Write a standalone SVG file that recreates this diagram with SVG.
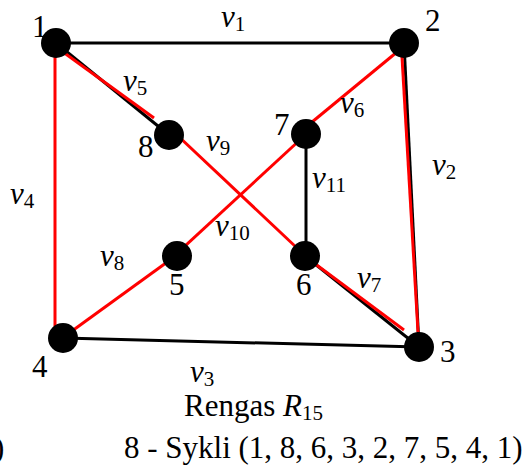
<svg xmlns="http://www.w3.org/2000/svg" width="529" height="470" viewBox="0 0 529 470">
<style>
.blk{stroke:#000;stroke-width:3;fill:none}
.red{stroke:#ff0000;stroke-width:3;fill:none}
.node{fill:#000}
text{font-family:"Liberation Serif","DejaVu Serif",serif;font-size:31px;fill:#000}
.it{font-style:italic}
.sub{font-size:21px}
</style>
<rect width="529" height="470" fill="#fff"/>
<g id="connectors">
<line class="blk" x1="56" y1="43" x2="404" y2="43"/>
<line class="blk" x1="63" y1="338" x2="419" y2="347"/>
<line class="blk" x1="306" y1="134" x2="306" y2="256"/>
<line class="blk" x1="56" y1="43" x2="169" y2="135"/>
<line class="blk" x1="404" y1="43" x2="419" y2="347"/>
<line class="blk" x1="305" y1="256" x2="419" y2="347"/>
<line class="red" x1="55" y1="50" x2="55" y2="332"/>
<line class="red" x1="63" y1="52" x2="154" y2="118"/>
<line class="red" x1="177" y1="135" x2="297" y2="248"/>
<line class="red" x1="314" y1="263" x2="404" y2="330"/>
<line class="red" x1="418" y1="332" x2="402" y2="57"/>
<line class="red" x1="397" y1="52" x2="306" y2="127"/>
<line class="red" x1="302" y1="138" x2="172" y2="258"/>
<line class="red" x1="170" y1="260" x2="72" y2="331"/>
</g>
<g id="n1"><circle class="node" cx="56" cy="43" r="15"/><text x="32" y="37">1</text></g>
<g id="n2"><circle class="node" cx="404" cy="43" r="15"/><text x="425" y="31">2</text></g>
<g id="n3"><circle class="node" cx="419" cy="347" r="15"/><text x="440" y="362">3</text></g>
<g id="n4"><circle class="node" cx="63" cy="338" r="15"/><text x="32" y="377">4</text></g>
<g id="n5"><circle class="node" cx="177" cy="256" r="15"/><text x="169" y="295">5</text></g>
<g id="n6"><circle class="node" cx="305" cy="256" r="15"/><text x="296" y="295">6</text></g>
<g id="n7"><circle class="node" cx="306" cy="134" r="15"/><text x="274" y="135">7</text></g>
<g id="n8"><circle class="node" cx="169" cy="135" r="15"/><text x="138" y="157">8</text></g>
<g id="labels">
<text x="221" y="27"><tspan class="it">v</tspan><tspan class="sub" dy="4">1</tspan></text>
<text x="432" y="175"><tspan class="it">v</tspan><tspan class="sub" dy="4">2</tspan></text>
<text x="190" y="382"><tspan class="it">v</tspan><tspan class="sub" dy="4">3</tspan></text>
<text x="10" y="204"><tspan class="it">v</tspan><tspan class="sub" dy="4">4</tspan></text>
<text x="123" y="91"><tspan class="it">v</tspan><tspan class="sub" dy="4">5</tspan></text>
<text x="340" y="113"><tspan class="it">v</tspan><tspan class="sub" dy="4">6</tspan></text>
<text x="357" y="288"><tspan class="it">v</tspan><tspan class="sub" dy="4">7</tspan></text>
<text x="100" y="266"><tspan class="it">v</tspan><tspan class="sub" dy="4">8</tspan></text>
<text x="206" y="151"><tspan class="it">v</tspan><tspan class="sub" dy="4">9</tspan></text>
<text x="215" y="236"><tspan class="it">v</tspan><tspan class="sub" dy="4">10</tspan></text>
<text x="312" y="188"><tspan class="it">v</tspan><tspan class="sub" dy="4">11</tspan></text>
<text x="184" y="416">Rengas <tspan class="it">R</tspan><tspan class="sub" dy="4">15</tspan></text>
<text x="124" y="458">8 - Sykli (1, 8, 6, 3, 2, 7, 5, 4, 1)</text>
<text x="-6" y="458">)</text>
</g>
</svg>
